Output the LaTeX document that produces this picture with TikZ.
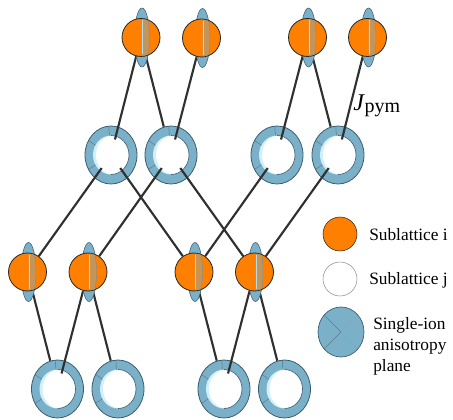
\documentclass[tikz,border=0pt]{standalone}
\usepackage{fontspec}
\setmainfont{Liberation Serif}
\usetikzlibrary{calc,shapes.geometric}
\definecolor{ink}{RGB}{48,48,48}
\definecolor{spin}{RGB}{255,128,0}
\definecolor{plane}{RGB}{122,176,200}
\definecolor{planedark}{RGB}{58,92,112}
\definecolor{rim}{RGB}{205,240,252}
\pgfdeclarelayer{under}
\pgfdeclarelayer{top}
\pgfsetlayers{under,main,top}
\tikzset{
  every picture/.style={x=0.75pt, y=-0.75pt},
  atom/.style={circle, fill=spin, draw=black!85, line width=0.6pt, minimum size=28.5pt, inner sep=0pt},
  halo/.style={fill=plane, draw=planedark, line width=0.4pt},
  ring/.style={ellipse, fill=plane, draw=planedark, line width=0.6pt, minimum width=39pt, minimum height=43.5pt, inner sep=0pt,
    path picture={
      \coordinate (o) at (path picture bounding box.center);
      \fill[rim] (o) ellipse [x radius=18, y radius=19.5];
      \fill[white] ($(o)+(1.5,0)$) ellipse [x radius=16.5, y radius=19.2];
      \foreach \a in {150,210,265}
        \draw[planedark!80, line width=0.4pt] ($(o)+(\a:18 and 19.5)$) -- ($(o)+(\a:26 and 29)$);
      \foreach \a in {30,-30}
        \draw[planedark!60, line width=0.4pt, densely dotted] ($(o)+(\a:18 and 19.5)$) -- ($(o)+(\a:26 and 29)$);
      \begin{scope}
        \clip ($(o)+(0,-21)$) rectangle ($(o)+(21,21)$);
        \draw[planedark, line width=0.5pt] (o) ellipse [x radius=18, y radius=19.5];
      \end{scope}
    }},
  link/.style={draw=ink, line width=1.6pt},
  front/.style={link, shorten >=12pt},
  key/.style={font=\fontsize{13}{15.75}\selectfont, anchor=west, inner sep=0pt, align=left},
  keyi/.style={atom, minimum size=25.5pt, line width=0.4pt},
  keyj/.style={circle, draw=black!45, line width=0.4pt, fill=white, minimum size=25.5pt, inner sep=0pt},
  keyplane/.style={ellipse, fill=plane, draw=planedark, line width=0.5pt, minimum width=34.5pt, minimum height=37.5pt, inner sep=0pt},
}
% spin of sublattice i with its easy plane seen edge-on
\newcommand\spinsite[2]{%
  \fill[halo] ($(#2)+(1,0)$) ellipse [x radius=7.5, y radius=29.5];
  \node[atom] (#1) at (#2) {};
  \begin{scope}
    \clip ($(#2)+(1,-30)$) rectangle ($(#2)+(10,30)$);
    \clip (#2) circle [radius=18.6];
    \fill[plane, opacity=.45] ($(#2)+(1,0)$) ellipse [x radius=7.5, y radius=29.5];
    \draw[planedark!70, line width=0.3pt] ($(#2)+(1,0)$) ellipse [x radius=7.5, y radius=29.5];
  \end{scope}
  \draw[rim!70!plane, line width=0.4pt] ($(#2)+(1.4,-17)$) -- ($(#2)+(1.4,17)$);
}

\begin{document}
\begin{tikzpicture}
  \useasboundingbox (0,0) rectangle (453,420);

  % sublattice j
  \node[ring] (j1) at (111,155) {};
  \node[ring] (j2) at (171,155) {};
  \node[ring] (j3) at (277,155) {};
  \node[ring] (j4) at (338,155) {};
  \node[ring] (j5) at (57.5,389) {};
  \node[ring] (j6) at (118,389) {};
  \node[ring] (j7) at (224,389) {};
  \node[ring] (j8) at (284.5,389) {};

  % sublattice i
  \begin{pgfonlayer}{top}
    \spinsite{i1}{141,37.5}
    \spinsite{i2}{201.5,38}
    \spinsite{i3}{307.5,37.5}
    \spinsite{i4}{367.5,37.5}
    \spinsite{i5}{27.5,272}
    \spinsite{i6}{88,272}
    \spinsite{i7}{194,272}
    \spinsite{i8}{254.5,272}
  \end{pgfonlayer}

  % bonds passing behind the rings
  \begin{pgfonlayer}{under}
    \draw[link] (i1) -- (j2);
    \draw[link] (i3) -- (j4);
    \draw[link] (i5) -- (j5);
    \draw[link] (i6) -- (j6);
    \draw[link] (i7) -- (j7);
    \draw[link] (i8) -- (j8);
  \end{pgfonlayer}

  % bonds in front
  \draw[front] (i1) -- (j1.center);
  \draw[front] (i2) -- (j2.center);
  \draw[front] (i3) -- (j3.center);
  \draw[front] (i4) -- (j4.center);
  \draw[front] (i5) -- (j1.center);
  \draw[front] (i7) -- (j1.center);
  \draw[front] (i6) -- (j2.center);
  \draw[front] (i8) -- (j2.center);
  \draw[front] (i7) -- (j3.center);
  \draw[front] (i8) -- (j4.center);
  \draw[front] (i6) -- (j5.center);
  \draw[front] (i8) -- (j7.center);

  \node[anchor=base west, inner sep=0pt] (jpym) at (353,111)
    {\fontsize{18}{18}\selectfont\itshape J\kern0.5pt\raisebox{-1.5pt}{\fontsize{15}{15}\selectfont\upshape pym}};

  % key
  \node[keyi] (ki) at (340,234) {};
  \node[key] (kitext) at (369,235) {Sublattice i};
  \node[keyj] (kj) at (340,279) {};
  \node[key] (kjtext) at (369,280) {Sublattice j};
  \node[keyplane] (kp) at (341,332) {};
  \draw[planedark!80, line width=0.4pt] (kp.135) -- (kp.center) -- (kp.225);
  \draw[planedark!60, line width=0.4pt, densely dotted] (kp.45) -- (kp.center) -- (kp.-45);
  \node[key] (kptext) at (373,346) {Single-ion\\anisotropy\\plane};
\end{tikzpicture}
\end{document}
